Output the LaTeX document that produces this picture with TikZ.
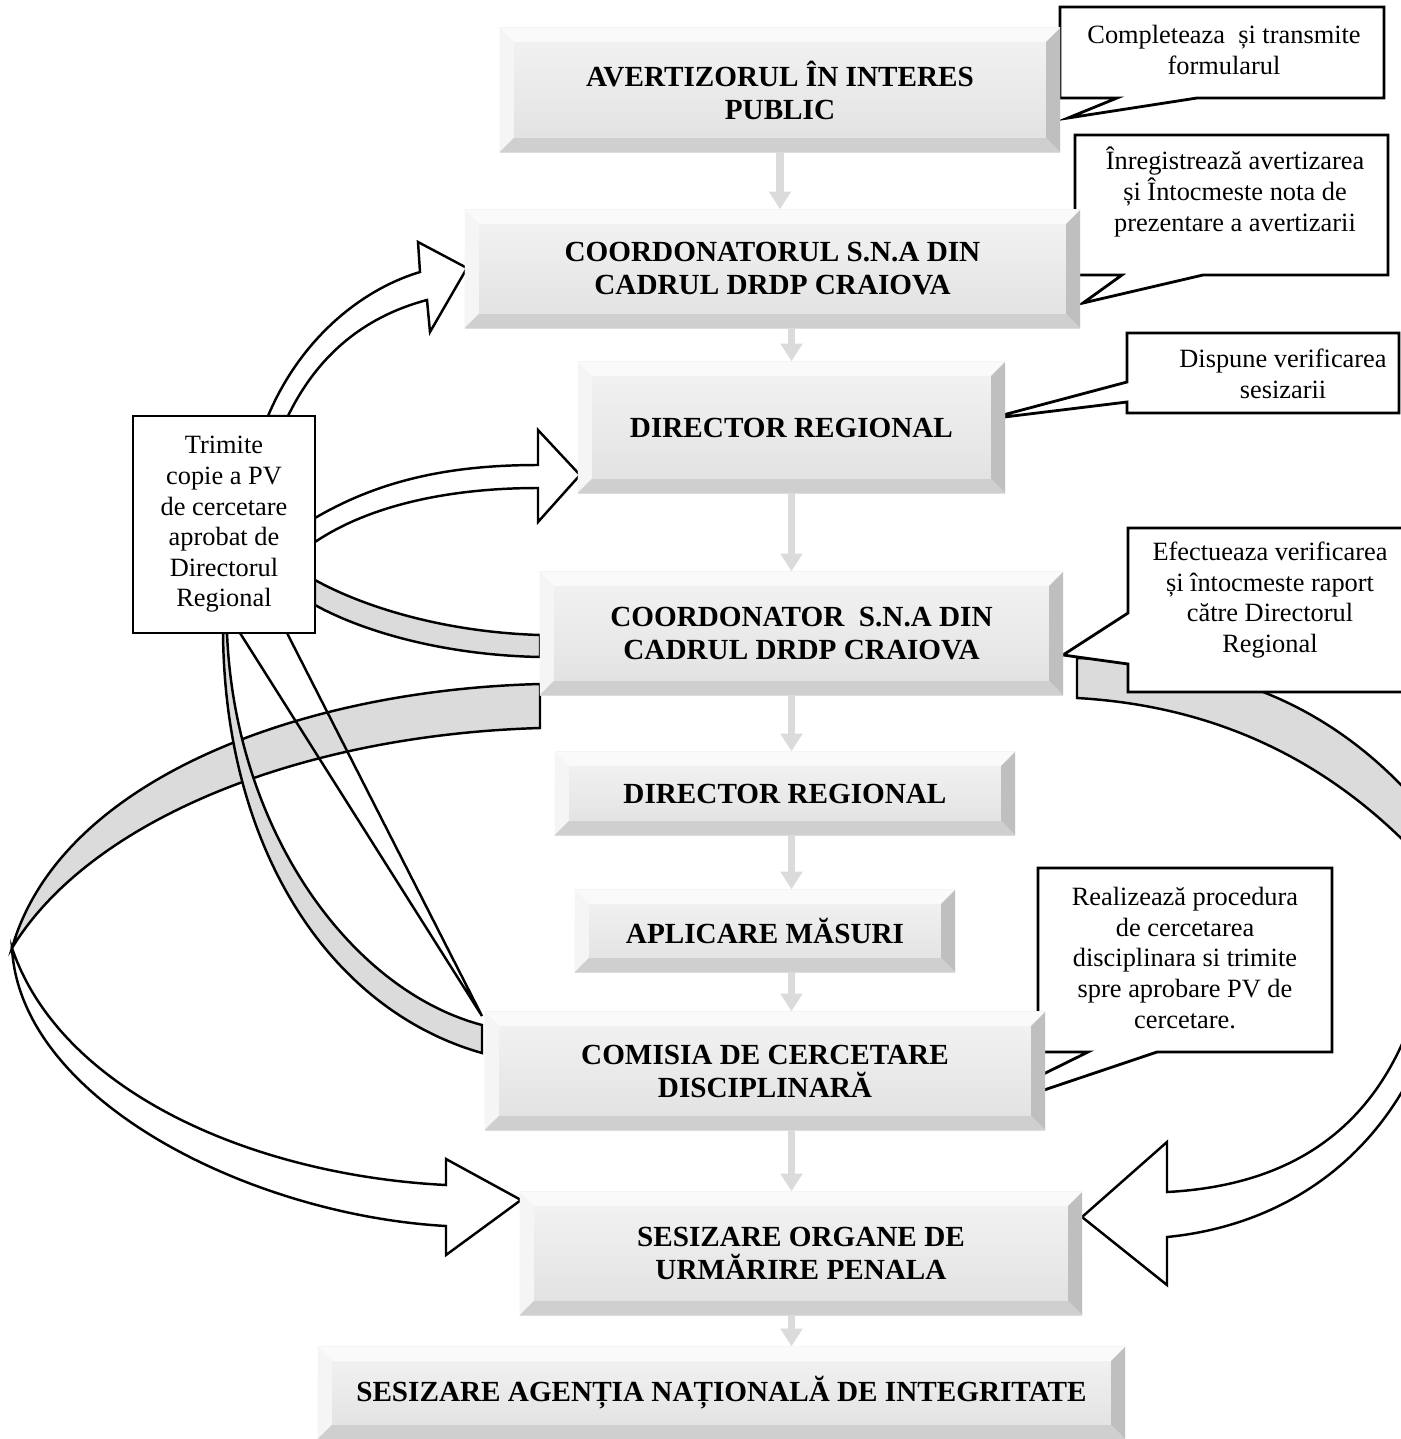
\documentclass[tikz,border=0pt]{standalone}
\usepackage{fontspec}
\setmainfont{Liberation Serif}
\usepackage{tikz}
\usetikzlibrary{arrows.meta}

\newcommand\bevw{0.14cm}
\tikzset{
  bevbox/.style={rectangle, inner sep=0pt, align=center,
    font=\bfseries\fontsize{8.3}{9.4}\selectfont,
    top color=gray!9, bottom color=gray!24,
    path picture={
      \fill[gray!4] (path picture bounding box.north west) -- (path picture bounding box.north east)
        -- ([shift={(-\bevw,-\bevw)}]path picture bounding box.north east)
        -- ([shift={(\bevw,-\bevw)}]path picture bounding box.north west) -- cycle;
      \fill[gray!8] (path picture bounding box.north west) -- ([shift={(\bevw,-\bevw)}]path picture bounding box.north west)
        -- ([shift={(\bevw,\bevw)}]path picture bounding box.south west) -- (path picture bounding box.south west) -- cycle;
      \fill[gray!50] (path picture bounding box.north east) -- (path picture bounding box.south east)
        -- ([shift={(-\bevw,\bevw)}]path picture bounding box.south east)
        -- ([shift={(-\bevw,-\bevw)}]path picture bounding box.north east) -- cycle;
      \fill[gray!38] (path picture bounding box.south west) -- (path picture bounding box.south east)
        -- ([shift={(-\bevw,\bevw)}]path picture bounding box.south east)
        -- ([shift={(\bevw,\bevw)}]path picture bounding box.south west) -- cycle;
    }},
  callbox/.style={draw=black, fill=white, line width=0.8pt},
  calltext/.style={align=center, inner sep=0pt, font=\fontsize{7.5}{8.7}\selectfont},
  ribbon/.style={draw=black, line width=0.7pt},
  downarr/.style={draw=gray!28, line width=2pt, -{Triangle[width=6pt,length=5pt]}}
}

\begin{document}
\begin{tikzpicture}[x=0.01cm, y=-0.01cm, line join=miter]
\useasboundingbox (0,0) rectangle (1401,1439);
\clip (0,0) rectangle (1401,1439);

% left ribbon: grey back side, then white front with the head
\filldraw[ribbon, fill=gray!28] (540,684) .. controls (300,690) and (60,780) .. (12,948)
  .. controls (90,820) and (300,735) .. (540,728) -- cycle;
\filldraw[ribbon, fill=white] (12,948) .. controls (20,1100) and (250,1215) .. (446,1226)
  -- (446,1255) -- (521,1200) -- (446,1159) -- (446,1185)
  .. controls (250,1175) and (60,1090) .. (12,948) -- cycle;

% right ribbon
\filldraw[ribbon, fill=gray!28] (1077,658) .. controls (1220,662) and (1340,700) .. (1440,830)
  -- (1440,880) .. controls (1330,750) and (1200,705) .. (1077,698) -- cycle;
\filldraw[ribbon, fill=white] (1460,900) -- (1440,1000) .. controls (1400,1150) and (1290,1225) .. (1167,1237)
  -- (1167,1285) -- (1082,1217) -- (1167,1142) -- (1167,1192)
  .. controls (1300,1185) and (1400,1120) .. (1430,950) -- cycle;

% thin band down to the commission
\filldraw[ribbon, fill=gray!28] (223,633) .. controls (225,850) and (330,1010) .. (482,1053)
  -- (482,1025) .. controls (350,990) and (235,830) .. (227,633) -- cycle;
\draw[ribbon] (240,633) -- (482,1016) -- (287,633);

% arrows out of the PV note
\filldraw[ribbon, fill=white] (268,416) .. controls (300,340) and (360,290) .. (420,272)
  -- (418,242) -- (467,268) -- (430,332) -- (427,300)
  .. controls (370,315) and (320,350) .. (288,416) -- cycle;
\filldraw[ribbon, fill=white] (315,518) .. controls (380,480) and (450,465) .. (538,465)
  -- (538,430) -- (580,475) -- (538,522) -- (538,488)
  .. controls (450,488) and (370,505) .. (315,542) -- cycle;
\filldraw[ribbon, fill=gray!28] (315,580) .. controls (360,605) and (440,632) .. (540,635)
  -- (540,657) .. controls (440,655) and (360,630) .. (315,605) -- cycle;

% callouts
\draw[callbox] (1060,7) -- (1384,7) -- (1384,98) -- (1197,98) -- (1068,118) -- (1117,98) -- (1060,98) -- cycle;
\node[calltext] (c1) at (1224,50) {Completeaza\ \ și transmite\\formularul};
\draw[callbox] (1075,135) -- (1388,135) -- (1388,275) -- (1203,275) -- (1083,303) -- (1122,275) -- (1075,275) -- cycle;
\node[calltext] (c2) at (1235,192) {Înregistrează avertizarea\\și Întocmeste nota de\\prezentare a avertizarii};
\draw[callbox] (1127,333) -- (1399,333) -- (1399,413) -- (1127,413) -- (1127,402) -- (988,419) -- (1127,382) -- cycle;
\node[calltext] (c3) at (1283,374) {Dispune verificarea\\sesizarii};
\draw[callbox] (1128,528) -- (1410,528) -- (1410,692) -- (1128,692) -- (1128,664) -- (1063,655) -- (1128,613) -- cycle;
\node[calltext] (c4) at (1270,600) {Efectueaza verificarea\\și întocmeste raport\\către Directorul\\Regional};
\draw[callbox] (1038,868) -- (1332,868) -- (1332,1052) -- (1157,1052) -- (940,1125) -- (1088,1052) -- (1038,1052) -- cycle;
\node[calltext] (c5) at (1185,958) {Realizează procedura\\de cercetarea\\disciplinara si trimite\\spre aprobare PV de\\cercetare.};
\node[callbox, calltext, minimum width=1.82cm, minimum height=2.17cm] (c6) at (224,524.5)
  {Trimite\\copie a PV\\de cercetare\\aprobat de\\Directorul\\Regional};

% main steps
\node[bevbox, minimum width=5.6cm, minimum height=1.24cm] (b1) at (780,90) {AVERTIZORUL ÎN INTERES\\PUBLIC};
\node[bevbox, minimum width=6.15cm, minimum height=1.18cm] (b2) at (772.5,269) {COORDONATORUL S.N.A DIN\\CADRUL DRDP CRAIOVA};
\node[bevbox, minimum width=4.27cm, minimum height=1.31cm] (b3) at (791.5,427.5) {DIRECTOR REGIONAL};
\node[bevbox, minimum width=5.23cm, minimum height=1.23cm] (b4) at (801.5,633.5) {COORDONATOR\ \ S.N.A DIN\\CADRUL DRDP CRAIOVA};
\node[bevbox, minimum width=4.6cm, minimum height=0.83cm] (b5) at (785,793.5) {DIRECTOR REGIONAL};
\node[bevbox, minimum width=3.8cm, minimum height=0.82cm] (b6) at (765,931) {APLICARE MĂSURI};
\node[bevbox, minimum width=5.6cm, minimum height=1.18cm] (b7) at (765,1071) {COMISIA DE CERCETARE\\DISCIPLINARĂ};
\node[bevbox, minimum width=5.62cm, minimum height=1.23cm] (b8) at (801,1253.5) {SESIZARE ORGANE DE\\URMĂRIRE PENALA};
\node[bevbox, minimum width=8.07cm, minimum height=0.92cm] (b9) at (721.5,1393) {SESIZARE AGENȚIA NAȚIONALĂ DE INTEGRITATE};

\draw[downarr] (b1.south) -- (b1.south |- b2.north);
\draw[downarr] (b2.south -| b3) -- (b3.north);
\draw[downarr] (b3.south) -- (b3.south |- b4.north);
\draw[downarr] (b4.south -| b3) -- (b5.north -| b3);
\draw[downarr] (b5.south -| b3) -- (b6.north -| b3);
\draw[downarr] (b6.south -| b3) -- (b7.north -| b3);
\draw[downarr] (b7.south -| b3) -- (b8.north -| b3);
\draw[downarr] (b8.south -| b3) -- (b9.north -| b3);
\end{tikzpicture}
\end{document}
